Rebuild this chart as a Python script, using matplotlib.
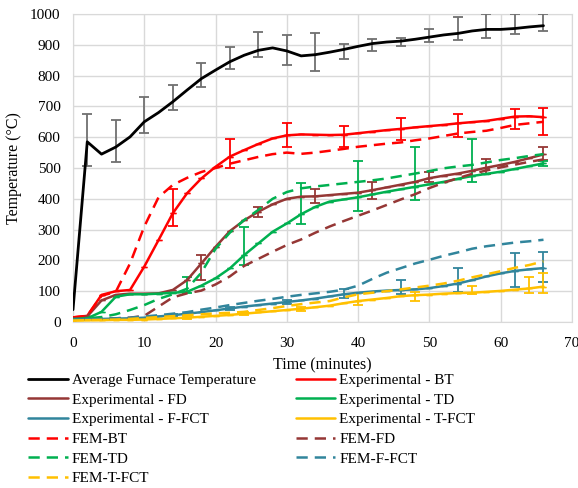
import numpy as np
import matplotlib
matplotlib.use('Agg')
import matplotlib.pyplot as plt

# time axis (minutes)
time = [0, 2, 4, 6, 8, 10, 12, 14, 16, 18, 20, 22, 24, 26, 28, 30, 32,
        34, 36, 38, 40, 42, 44, 46, 48, 50, 52, 54, 56, 58, 60, 62, 64, 66]

furnace = [40, 585, 545, 568, 601, 650, 680, 715, 753, 790, 818, 845, 866, 882, 890, 880, 864,
           868, 876, 885, 895, 904, 909, 912, 918, 925, 932, 937, 945, 950, 950, 953, 958, 962]
exp_bt = [15, 20, 88, 100, 104, 180, 266, 353, 418, 466, 504, 537, 558, 578, 596, 606, 609,
          608, 607, 608, 613, 618, 623, 627, 632, 636, 640, 645, 649, 653, 660, 667, 668, 665]
exp_fd = [12, 18, 70, 88, 92, 92, 93, 104, 136, 190, 244, 295, 330, 358, 382, 400, 407,
          408, 412, 416, 420, 428, 437, 446, 455, 467, 475, 482, 491, 501, 510, 520, 532, 544]
exp_td = [10, 12, 33, 82, 90, 90, 92, 95, 98, 118, 142, 174, 217, 255, 293, 320, 350,
          374, 391, 398, 405, 414, 423, 431, 439, 447, 455, 465, 474, 481, 488, 497, 506, 515]
exp_ffct = [8, 9, 10, 11, 12, 14, 18, 22, 27, 32, 38, 44, 50, 55, 60, 65, 70,
            76, 83, 90, 95, 99, 102, 104, 106, 110, 117, 125, 136, 148, 158, 166, 171, 175]
exp_tfct = [5, 6, 6, 7, 7, 8, 10, 12, 14, 17, 20, 23, 27, 31, 35, 39, 43,
            48, 53, 61, 68, 73, 78, 84, 87, 89, 92, 94, 95, 98, 101, 105, 109, 115]
fem_bt = [15, 20, 85, 98, 190, 310, 405, 445, 468, 487, 500, 514, 525, 536, 545, 550, 546,
          550, 556, 562, 569, 574, 579, 583, 590, 596, 604, 612, 617, 621, 630, 640, 645, 650]
fem_fd = [8, 9, 10, 12, 14, 20, 50, 80, 93, 102, 122, 148, 182, 205, 228, 250, 268,
          290, 310, 328, 345, 362, 380, 398, 415, 435, 452, 467, 481, 492, 502, 511, 520, 528]
fem_td = [10, 12, 16, 25, 39, 55, 75, 90, 108, 160, 238, 290, 331, 364, 400, 422, 434,
          440, 445, 450, 455, 460, 466, 474, 482, 490, 499, 505, 510, 518, 526, 532, 539, 545]
fem_ffct = [8, 9, 10, 12, 14, 18, 22, 27, 32, 40, 47, 55, 62, 69, 75, 82, 88,
            93, 98, 105, 118, 140, 160, 175, 190, 202, 215, 226, 238, 246, 252, 258, 262, 267]
fem_tfct = [5, 6, 7, 8, 10, 13, 16, 19, 22, 25, 28, 30, 33, 39, 45, 52, 58,
            63, 68, 80, 90, 95, 100, 106, 112, 118, 125, 134, 145, 155, 165, 176, 185, 197]

# error bars: times, lower and upper ends
furnace_et = [2, 6, 10, 14, 18, 22, 26, 30, 34, 38, 42, 46, 50, 54, 58, 62, 66]
furnace_lo = [507, 520, 615, 688, 762, 821, 861, 834, 815, 854, 881, 897, 908, 916, 921, 935, 946]
furnace_hi = [675, 656, 730, 770, 840, 893, 941, 933, 939, 901, 919, 923, 952, 989, 1000, 1000, 1000]
bt_et = [14, 22, 30, 38, 46, 54, 62, 66]
bt_lo = [312, 501, 569, 567, 591, 602, 626, 607]
bt_hi = [431, 593, 645, 636, 661, 675, 690, 696]
fd_et = [18, 26, 34, 42, 50, 58, 66]
fd_lo = [136, 340, 385, 399, 455, 482, 526]
fd_hi = [217, 374, 431, 455, 488, 529, 569]
td_et = [16, 24, 32, 40, 48, 56, 66]
td_lo = [93, 185, 318, 360, 396, 455, 505]
td_hi = [147, 309, 452, 524, 567, 593, 522]
ffct_et = [14, 22, 30, 38, 46, 54, 62, 66]
ffct_lo = [19, 38, 58, 79, 90, 99, 113, 131]
ffct_hi = [27, 48, 72, 107, 137, 174, 225, 228]
tfct_et = [16, 24, 32, 40, 48, 56, 64, 66]
tfct_lo = [10, 22, 37, 55, 69, 90, 95, 95]
tfct_hi = [18, 32, 50, 93, 99, 118, 145, 158]

BLACK = '#000000'
RED = '#FF0000'
BROWN = '#953735'
GREEN = '#00B050'
TEAL = '#31859C'
GOLD = '#FFC000'

plt.rcParams['font.family'] = ['Liberation Serif', 'DejaVu Serif']
plt.rcParams['font.size'] = 11

fig = plt.figure(figsize=(5.78, 4.88), dpi=100)
ax = fig.add_axes([73 / 578, 1 - 322 / 488, 499 / 578, 308 / 488])


def err_bars(et, lo, hi, color):
    lo = np.array(lo, dtype=float)
    hi = np.array(hi, dtype=float)
    ax.errorbar(et, (lo + hi) / 2, yerr=(hi - lo) / 2, fmt='none', ecolor=color,
                elinewidth=1.3, capsize=3.5, capthick=1.3, zorder=3, clip_on=True)


series = [
    ('Average Furnace Temperature', furnace, BLACK, '-', None),
    ('Experimental - BT', exp_bt, RED, '-', (bt_et, bt_lo, bt_hi)),
    ('Experimental - FD', exp_fd, BROWN, '-', (fd_et, fd_lo, fd_hi)),
    ('Experimental - TD', exp_td, GREEN, '-', (td_et, td_lo, td_hi)),
    ('Experimental - F-FCT', exp_ffct, TEAL, '-', (ffct_et, ffct_lo, ffct_hi)),
    ('Experimental - T-FCT', exp_tfct, GOLD, '-', (tfct_et, tfct_lo, tfct_hi)),
    ('FEM-BT', fem_bt, RED, '--', None),
    ('FEM-FD', fem_fd, BROWN, '--', None),
    ('FEM-TD', fem_td, GREEN, '--', None),
    ('FEM-F-FCT', fem_ffct, TEAL, '--', None),
    ('FEM-T-FCT', fem_tfct, GOLD, '--', None),
]

handles = []
for name, vals, color, ls, err in series:
    lw = 2.0 if color == BLACK else 1.8
    line, = ax.plot(time, vals, color=color, lw=lw, ls=ls, label=name, zorder=4,
                    solid_capstyle='round', solid_joinstyle='round')
    if ls == '--':
        line.set_dashes((4.5, 2.8))
    handles.append(line)
    if err is not None:
        err_bars(err[0], err[1], err[2], color)
        # small caps at every reading
        ax.errorbar(time, vals, yerr=0, fmt='none', ecolor=color, capsize=2.5,
                    capthick=1.0, elinewidth=0, zorder=3)

err_bars(furnace_et, furnace_lo, furnace_hi, '#707070')

ax.set_xlim(0, 70)
ax.set_ylim(0, 1000)
ax.set_xticks(np.arange(0, 71, 10))
ax.set_yticks(np.arange(0, 1001, 100))
ax.grid(True, color='#D9D9D9', lw=1.0)
ax.set_axisbelow(True)
for sp in ax.spines.values():
    sp.set_color('#D9D9D9')
ax.tick_params(axis='y', length=0, pad=9, labelsize=11)
ax.tick_params(axis='x', length=0, pad=11, labelsize=11)
ax.set_xlabel('Time (minutes)', fontsize=11.5, labelpad=5)
ax.set_ylabel('Temperature (°C)', fontsize=11.5, labelpad=6)

# Excel fills the legend row by row; matplotlib fills columns
order = [0, 2, 4, 6, 8, 10, 1, 3, 5, 7, 9]
fig.legend([handles[i] for i in order], [series[i][0] for i in order],
           loc='upper left', bbox_to_anchor=(0.049, 0.235), ncol=2, frameon=False,
           fontsize=11, handlelength=2.6, handletextpad=0.25, columnspacing=2.6,
           labelspacing=0.39, borderaxespad=0, borderpad=0)

fig.savefig('out.png', dpi=100)
